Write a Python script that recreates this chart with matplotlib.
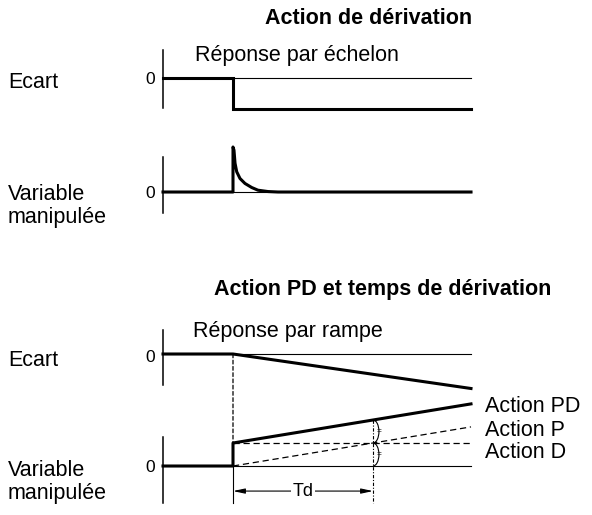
import matplotlib
matplotlib.use("Agg")
import matplotlib.pyplot as plt
from matplotlib.patches import Arc, ConnectionPatch

plt.rcParams['font.family'] = ['Liberation Sans', 'DejaVu Sans']

# ---------------- data ----------------
# top: step response (time in units, step at t=0)
t_step = [-1, 0, 0, 3.4]
ecart_step = [0, 0, -1, -1]
t_spike = [-1, 0, 0, 0.014, 0.029, 0.053, 0.10, 0.171, 0.267, 0.357, 0.50, 0.643, 3.4]
mv_spike = [0, 0, 1.0, 0.93, 0.64, 0.45, 0.30, 0.19, 0.10, 0.04, 0.01, 0.0, 0.0]
# bottom: ramp response
t_ramp = [-1, 0, 3.4]
ecart_ramp = [0, 0, -1.5]
t_pd = [-1, 0, 0, 3.4]
action_pd = [0, 0, 1.0, 2.7]
t_p = [0, 3.4]
action_p = [0, 1.7]
t_d = [0, 3.4]
action_d = [1.0, 1.0]
Td = 2.0
t_zero = [-1, 3.4]
zero = [0, 0]

titles = ["Action de dérivation", "Action PD et temps de dérivation"]
subtitles = ["Réponse par échelon", "Réponse par rampe"]
right_labels = ["Action PD", "Action P", "Action D"]

# ---------------- layout ----------------
W, H = 592, 515
fig = plt.figure(figsize=(W / 100, H / 100), dpi=100)

X0, X1, PXU = 163, 480, 70  # left px, right px, px per time unit
FS = 15.5
THICK, THIN = 2.2, 0.8


def lane(y_top, y_bot, y_zero, ppu):
    ax = fig.add_axes([X0 / W, 1 - y_bot / H, (X1 - X0) / W, (y_bot - y_top) / H])
    ax.set_xlim(-1, -1 + (X1 - X0) / PXU)
    ax.set_ylim(-(y_bot - y_zero) / ppu, (y_zero - y_top) / ppu)
    for s in ['top', 'right', 'bottom']:
        ax.spines[s].set_visible(False)
    ax.spines['left'].set_linewidth(1.1)
    ax.set_xticks([])
    ax.set_yticks([])
    ax.patch.set_alpha(0)
    return ax


def ftext(x, y, s, **kw):
    fig.text(x / W, 1 - y / H, s, **kw)


ax_e1 = lane(50, 108, 78, 31)
ax_m1 = lane(157, 213, 192, 45)
ax_e2 = lane(330, 385, 354, 23)
ax_m2 = lane(437, 503, 466, 23)

# top panel
ax_e1.plot(t_zero, zero, color='black', lw=THIN)
ax_e1.plot(t_step, ecart_step, color='black', lw=THICK, clip_on=False,
           solid_joinstyle='miter')
ax_m1.plot(t_zero, zero, color='black', lw=THIN)
ax_m1.plot(t_spike, mv_spike, color='black', lw=THICK, clip_on=False)
fig.add_artist(ConnectionPatch((0, -1), (0, 1), 'data', 'data', axesA=ax_e1, axesB=ax_m1,
                               color='black', lw=0.9, linestyle=(0, (3, 2))))

# bottom panel
ax_e2.plot(t_zero, zero, color='black', lw=THIN)
ax_e2.plot(t_ramp, ecart_ramp, color='black', lw=THICK, clip_on=False)
ax_m2.plot(t_zero, zero, color='black', lw=THIN)
ax_m2.plot(t_p, action_p, color='black', lw=0.9, linestyle=(0, (5, 3)), clip_on=False)
ax_m2.plot(t_d, action_d, color='black', lw=0.9, linestyle=(0, (5, 3)), clip_on=False)
ax_m2.plot(t_pd, action_pd, color='black', lw=THICK, clip_on=False)
fig.add_artist(ConnectionPatch((0, 0), (0, 1), 'data', 'data', axesA=ax_e2, axesB=ax_m2,
                               color='black', lw=0.9, linestyle=(0, (3, 2))))
ybot = ax_m2.get_ylim()[0]
ax_m2.plot([0, 0], [0, ybot], color='black', lw=THIN, clip_on=False)

pd_td = action_d[0] + action_p[1] * Td / t_p[1]
ax_m2.plot([Td, Td], [pd_td, ybot], color='black', lw=0.8,
           linestyle=(0, (3, 1.5, 1, 1.5)), clip_on=False)

# braces
for lo, hi in [(action_d[0], pd_td), (0, action_d[0])]:
    ax_m2.add_patch(Arc((Td, (lo + hi) / 2), 0.17, hi - lo, theta1=-90, theta2=90,
                        color='black', lw=0.8, clip_on=False))
    ax_m2.text(Td + 0.085, (lo + hi) / 2, '=', fontsize=6, ha='center', va='center',
               clip_on=False)

# Td arrow
y_arrow = -1.09
ax_m2.annotate('', xy=(0, y_arrow), xytext=(Td, y_arrow),
               arrowprops=dict(arrowstyle='<|-|>,head_length=0.7,head_width=0.15',
                               color='black', lw=0.8, shrinkA=0, shrinkB=0),
               annotation_clip=False)
ax_m2.text(Td / 2, y_arrow, 'Td', fontsize=13, ha='center', va='center',
           bbox=dict(facecolor='white', edgecolor='none', pad=1.0), clip_on=False)

# ---------------- texts ----------------
ftext(369, 18, titles[0], fontsize=FS, fontweight='bold', ha='center', va='center')
ftext(383, 290, titles[1], fontsize=FS, fontweight='bold', ha='center', va='center')
ftext(195, 55, subtitles[0], fontsize=FS, ha='left', va='center')
ftext(193, 332, subtitles[1], fontsize=FS, ha='left', va='center')

for y in (82, 360):
    ftext(8, y, "Ecart", fontsize=FS, ha='left', va='center')
for y in (206, 482):
    ftext(8, y, "Variable\nmanipulée", fontsize=FS, ha='left', va='center',
          linespacing=1.1)
for y in (79, 193, 358, 467):
    ftext(155, y, "0", fontsize=12.5, ha='right', va='center')

for y, s in zip((406, 430, 452), right_labels):
    ftext(485, y, s, fontsize=FS, ha='left', va='center')

fig.savefig('out.png', dpi=100)
